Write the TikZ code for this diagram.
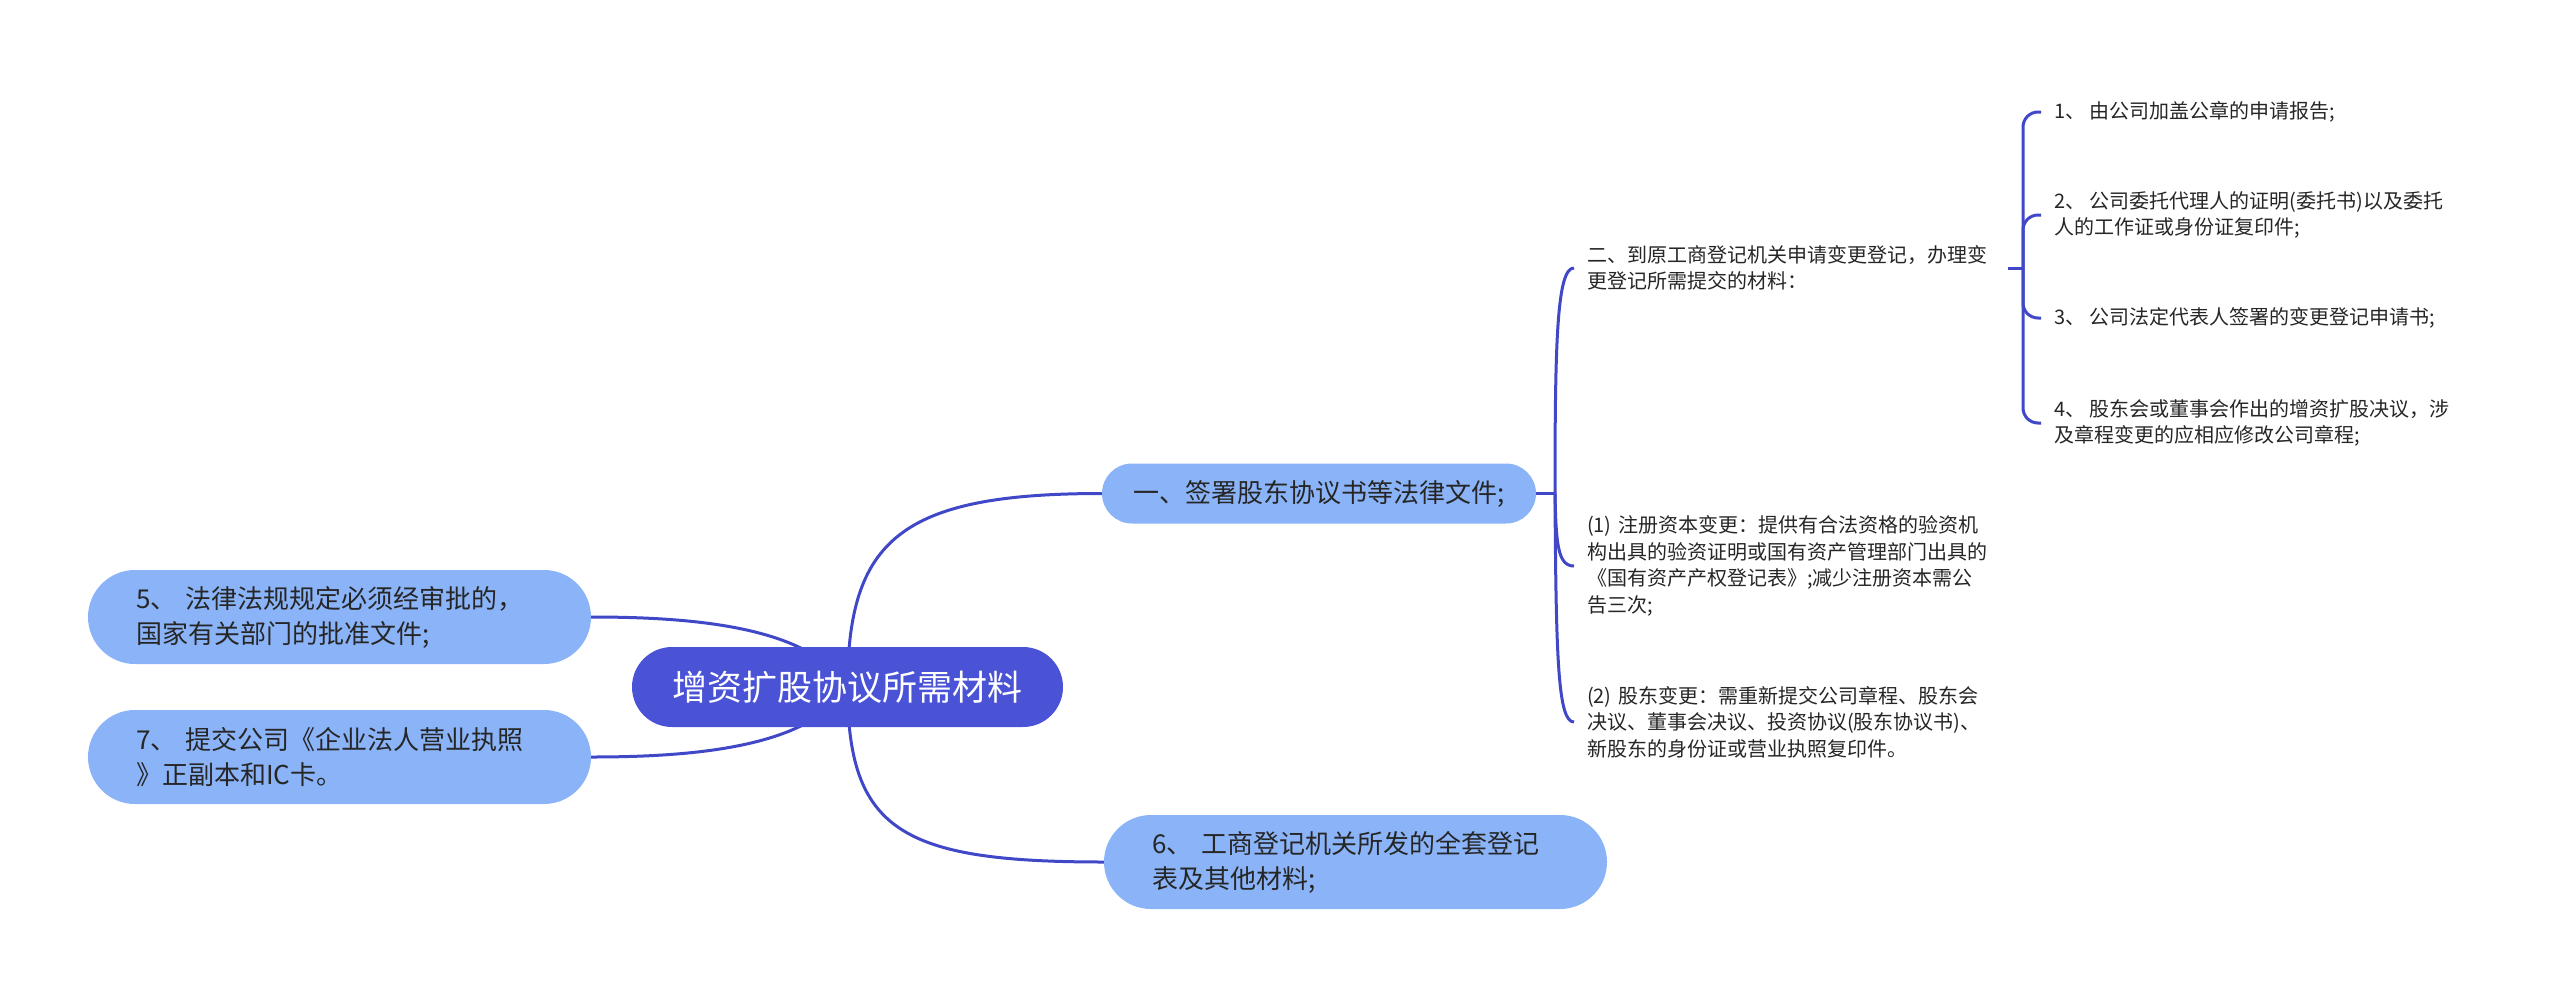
\documentclass[tikz,border=0pt]{standalone}
\usepackage{fontspec}
\setmainfont{Noto Sans CJK SC}
\usetikzlibrary{backgrounds}
\definecolor{cenfill}{RGB}{74,82,214}
\definecolor{lvfill}{RGB}{139,180,248}
\definecolor{linec}{RGB}{64,72,200}
\definecolor{txt}{RGB}{38,38,38}
\tikzset{
  conn/.style={draw=linec, line width=3pt},
  rootbox/.style={fill=cenfill, text=white, rounded corners=40pt, minimum width=431pt, minimum height=80pt, inner sep=0pt, font=\fontsize{35}{42}\selectfont},
  topicbox/.style={fill=lvfill, text=txt, rounded corners=30pt, minimum width=434pt, minimum height=60pt, inner sep=0pt, font=\fontsize{26}{33}\selectfont},
  bigbox/.style={fill=lvfill, text=txt, rounded corners=47pt, minimum height=94pt, inner xsep=48pt, inner ysep=0pt, text width=407pt, align=left, font=\fontsize{26}{35}\selectfont},
  subtext/.style={text=txt, inner xsep=0pt, inner ysep=2pt, outer xsep=13pt, align=left, font=\fontsize{20}{26.5}\selectfont},
  subwide/.style={subtext, text width=408pt},
}
\begin{document}
\begin{tikzpicture}[x=1pt, y=-1pt]
\useasboundingbox (0,0) rectangle (2560,999);

\node[rootbox] (root) at (847.5,687) {增资扩股协议所需材料};
\node[topicbox] (t1) at (1319,493.5) {一、签署股东协议书等法律文件;};
\node[bigbox] (t5) at (339.5,617) {5、 法律法规规定必须经审批的，\\国家有关部门的批准文件;};
\node[bigbox] (t7) at (339.5,757) {7、 提交公司《企业法人营业执照\\》正副本和IC卡。};
\node[bigbox] (t6) at (1355.5,862) {6、 工商登记机关所发的全套登记\\表及其他材料;};

\node[subwide, anchor=west] (s2) at (1574,268) {二、到原工商登记机关申请变更登记，办理变\\更登记所需提交的材料：};
\node[subwide, anchor=west] (s21) at (1574,566) {(1) 注册资本变更：提供有合法资格的验资机\\构出具的验资证明或国有资产管理部门出具的\\《国有资产产权登记表》;减少注册资本需公\\告三次;};
\node[subwide, anchor=west] (s22) at (1574,722) {(2) 股东变更：需重新提交公司章程、股东会\\决议、董事会决议、投资协议(股东协议书)、\\新股东的身份证或营业执照复印件。};

\node[subtext, anchor=west] (i1) at (2041,112) {1、 由公司加盖公章的申请报告;};
\node[subtext, anchor=west] (i2) at (2041,215) {2、 公司委托代理人的证明(委托书)以及委托\\人的工作证或身份证复印件;};
\node[subtext, anchor=west] (i3) at (2041,318) {3、 公司法定代表人签署的变更登记申请书;};
\node[subtext, anchor=west] (i4) at (2041,423) {4、 股东会或董事会作出的增资扩股决议，涉\\及章程变更的应相应修改公司章程;};

\coordinate (j1) at (1555,493.5);
\coordinate (j2) at (2023,268);

\begin{scope}[on background layer]
\fill[white] (0,0) rectangle (2560,999);
\draw[conn] (root.center) .. controls (848,540) and (900,493.5) .. (t1.west);
\draw[conn] (root.center) .. controls (848,830) and (900,862) .. (t6.west);
\draw[conn] (root.center) .. controls (810,628) and (700,617) .. (t5.east);
\draw[conn] (root.center) .. controls (810,746) and (700,757) .. (t7.east);
\draw[conn] (t1.east) -- (j1);
\draw[conn] (j1) .. controls (1555,340) and (1557,268) .. (s2.west);
\draw[conn] (j1) .. controls (1556,545) and (1558,566) .. (s21.west);
\draw[conn] (j1) .. controls (1556,660) and (1558,722) .. (s22.west);
\draw[conn] (s2.east) -- (j2);
\draw[conn, rounded corners=15pt] (j2) |- (i1.west);
\draw[conn, rounded corners=15pt] (j2) |- (i2.west);
\draw[conn, rounded corners=15pt] (j2) |- (i3.west);
\draw[conn, rounded corners=15pt] (j2) |- (i4.west);
\end{scope}
\end{tikzpicture}
\end{document}
